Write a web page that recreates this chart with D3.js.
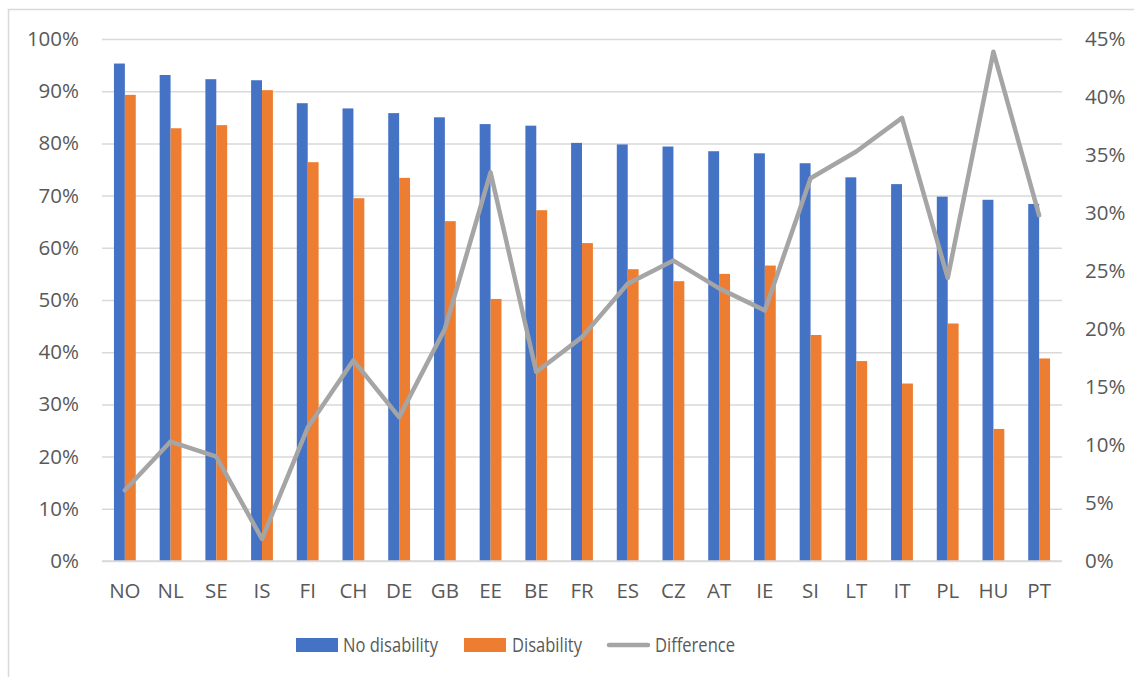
<!DOCTYPE html>
<html>
<head>
<meta charset="utf-8">
<script src="https://cdn.jsdelivr.net/npm/d3@7"></script>
<style>
  html, body { margin: 0; padding: 0; background: #fff; }
  svg { display: block; }
  text { font-family: "Open Sans", "Noto Sans", sans-serif; fill: #595959; }
</style>
</head>
<body>
<svg id="chart" width="1134" height="677"></svg>
<script>
// Employment rates by country, with and without disability
const countries = ["NO","NL","SE","IS","FI","CH","DE","GB","EE","BE","FR","ES","CZ","AT","IE","SI","LT","IT","PL","HU","PT"];
const noDisability = [95.3, 93.1, 92.3, 92.1, 87.7, 86.7, 85.8, 85.0, 83.7, 83.4, 80.1, 79.8, 79.4, 78.5, 78.1, 76.2, 73.5, 72.2, 69.8, 69.2, 68.4];
const disability   = [89.3, 82.9, 83.5, 90.2, 76.4, 69.5, 73.4, 65.1, 50.2, 67.2, 60.9, 55.9, 53.6, 55.0, 56.6, 43.3, 38.3, 34.0, 45.5, 25.3, 38.8];
const difference   = [6.1, 10.3, 9.0, 1.9, 11.5, 17.3, 12.4, 20.0, 33.5, 16.3, 19.3, 23.9, 25.9, 23.5, 21.6, 33.0, 35.3, 38.2, 24.4, 43.9, 29.8];
const leftTicks  = [0, 10, 20, 30, 40, 50, 60, 70, 80, 90, 100];
const rightTicks = [0, 5, 10, 15, 20, 25, 30, 35, 40, 45];
const seriesNames = ["No disability", "Disability", "Difference"];
const colors = { "No disability": "#4472C4", "Disability": "#ED7D31", "Difference": "#A5A5A5" };

const svg = d3.select("#chart");
const plot = { left: 102, right: 1062, top: 39, bottom: 561 };
const axisFont = "20.5px";

// chart frame
svg.append("rect")
  .attr("x", 8.5).attr("y", 9.5).attr("width", 1140).attr("height", 700)
  .attr("fill", "none").attr("stroke", "#d9d9d9").attr("stroke-width", 1.5);

const x = d3.scaleBand().domain(countries).range([plot.left, plot.right])
  .paddingInner(0.523).paddingOuter(0.2615);
const x1 = d3.scaleBand().domain(["No disability", "Disability"]).range([0, x.bandwidth()]);
const yL = d3.scaleLinear().domain([0, 100]).range([plot.bottom, plot.top]);
const yR = d3.scaleLinear().domain([0, 45]).range([plot.bottom, plot.top]);

// gridlines from the left axis
const grid = d3.axisLeft(yL).tickValues(leftTicks).tickSize(-(plot.right - plot.left)).tickFormat("");
svg.append("g").attr("transform", `translate(${plot.left},0)`).call(grid)
  .call(g => g.select(".domain").remove())
  .call(g => g.selectAll("line").attr("stroke", "#d9d9d9").attr("stroke-width", 1.5));

// left axis labels
svg.append("g").attr("transform", `translate(${plot.left},0)`)
  .call(d3.axisLeft(yL).tickValues(leftTicks).tickSize(0).tickPadding(23).tickFormat(d => d + "%"))
  .call(g => g.select(".domain").remove())
  .call(g => g.selectAll("text").style("font-size", axisFont).attr("fill", "#595959"));

// right axis labels
svg.append("g").attr("transform", `translate(${plot.right},0)`)
  .call(d3.axisRight(yR).tickValues(rightTicks).tickSize(0).tickPadding(23).tickFormat(d => d + "%"))
  .call(g => g.select(".domain").remove())
  .call(g => g.selectAll("text").style("font-size", axisFont).attr("fill", "#595959"));

// bars
const rows = countries.map((c, i) => ({ c, vals: [
  { key: "No disability", v: noDisability[i] },
  { key: "Disability", v: disability[i] }
]}));
const groups = svg.append("g").selectAll("g").data(rows).join("g")
  .attr("transform", d => `translate(${x(d.c)},0)`);
groups.selectAll("rect").data(d => d.vals).join("rect")
  .attr("x", d => x1(d.key))
  .attr("width", x1.bandwidth())
  .attr("y", d => yL(d.v))
  .attr("height", d => yL(0) - yL(d.v))
  .attr("fill", d => colors[d.key]);

// bottom axis line and category labels
svg.append("line").attr("x1", plot.left).attr("x2", plot.right)
  .attr("y1", plot.bottom).attr("y2", plot.bottom).attr("stroke", "#d9d9d9").attr("stroke-width", 1.5);
svg.append("g").attr("transform", `translate(0,${plot.bottom})`)
  .call(d3.axisBottom(x).tickSize(0).tickPadding(22))
  .call(g => g.select(".domain").remove())
  .call(g => g.selectAll("text").style("font-size", axisFont).attr("fill", "#595959"));

// difference line on the right axis
const line = d3.line()
  .x((d, i) => x(countries[i]) + x.bandwidth() / 2)
  .y(d => yR(d));
svg.append("path").datum(difference)
  .attr("d", line)
  .attr("fill", "none")
  .attr("stroke", colors["Difference"])
  .attr("stroke-width", 4.5)
  .attr("stroke-linejoin", "round")
  .attr("stroke-linecap", "round");

// legend (narrow-set labels)
const legendItems = [
  { name: seriesNames[0], sx: 296, tx: 343, w: 95, type: "rect" },
  { name: seriesNames[1], sx: 464, tx: 512, w: 70, type: "rect" },
  { name: seriesNames[2], sx: 607, tx: 655, w: 80, type: "line" }
];
const ly = 645;
const legend = svg.append("g");
legendItems.forEach(it => {
  if (it.type === "rect") {
    legend.append("rect").attr("x", it.sx).attr("y", ly - 7).attr("width", 42).attr("height", 14)
      .attr("fill", colors[it.name]);
  } else {
    legend.append("line").attr("x1", it.sx + 2).attr("x2", it.sx + 41).attr("y1", ly).attr("y2", ly)
      .attr("stroke", colors[it.name]).attr("stroke-width", 4.5).attr("stroke-linecap", "round");
  }
  legend.append("text").attr("x", it.tx).attr("y", ly).attr("dy", "0.35em")
    .attr("textLength", it.w).attr("lengthAdjust", "spacingAndGlyphs")
    .style("font-size", "19.5px").text(it.name);
});
</script>
</body>
</html>
